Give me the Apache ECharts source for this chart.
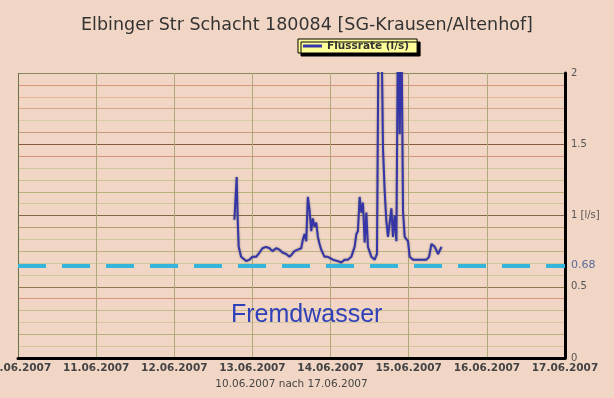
<!DOCTYPE html>
<html>
<head>
<meta charset="utf-8">
<script src="https://cdn.jsdelivr.net/npm/echarts@6/dist/echarts.min.js"></script>
<style>
html,body{margin:0;padding:0;background:#f1d6c5;}
#c{width:614px;height:398px;}
</style>
</head>
<body>
<div id="c"></div>
<script>
const titleText = 'Elbinger Str Schacht 180084 [SG-Krausen/Altenhof]';
const seriesName = 'Flussrate (l/s)';
const xAxisName = '10.06.2007 nach 17.06.2007';
const xStart = '2007-06-10 00:00';
const xEnd = '2007-06-17 00:00';
const yTickValues = [0, 0.5, 1, 1.5, 2];
const yTickLabels = ['0', '0.5', '1 [l/s]', '1.5', '2'];
const baseFlowValue = 0.645;
const baseFlowLabel = '0.68';
const baseFlowText = 'Fremdwasser';

const times = [
'2007-06-12 18:28','2007-06-12 19:10','2007-06-12 19:29','2007-06-12 19:47','2007-06-12 20:31',
'2007-06-12 22:04','2007-06-12 23:05','2007-06-13 00:00','2007-06-13 01:08','2007-06-13 02:10',
'2007-06-13 03:05','2007-06-13 04:13','2007-06-13 05:14','2007-06-13 06:09','2007-06-13 07:18',
'2007-06-13 08:18','2007-06-13 09:14','2007-06-13 10:22','2007-06-13 11:23','2007-06-13 12:13',
'2007-06-13 12:55','2007-06-13 13:56','2007-06-13 14:59','2007-06-13 15:29','2007-06-13 16:00',
'2007-06-13 16:32','2007-06-13 17:01','2007-06-13 17:32','2007-06-13 18:04','2007-06-13 18:33',
'2007-06-13 19:05','2007-06-13 19:36','2007-06-13 20:06','2007-06-13 20:37','2007-06-13 21:08',
'2007-06-13 22:09','2007-06-13 23:10','2007-06-14 00:43','2007-06-14 02:15','2007-06-14 03:18',
'2007-06-14 04:18','2007-06-14 05:19','2007-06-14 06:22','2007-06-14 07:23','2007-06-14 07:55',
'2007-06-14 08:24','2007-06-14 08:56','2007-06-14 09:27','2007-06-14 09:57','2007-06-14 10:28',
'2007-06-14 10:59','2007-06-14 11:29','2007-06-14 12:32','2007-06-14 13:33','2007-06-14 14:15',
'2007-06-14 14:46','2007-06-14 15:36','2007-06-14 16:06','2007-06-14 16:37','2007-06-14 17:08',
'2007-06-14 17:38','2007-06-14 18:09','2007-06-14 18:41','2007-06-14 19:10','2007-06-14 19:41',
'2007-06-14 20:13','2007-06-14 20:43','2007-06-14 21:14','2007-06-14 21:45','2007-06-14 22:15',
'2007-06-14 22:46','2007-06-14 23:47','2007-06-15 00:18','2007-06-15 01:19','2007-06-15 03:23',
'2007-06-15 05:27','2007-06-15 06:15','2007-06-15 06:59','2007-06-15 08:00','2007-06-15 09:01',
'2007-06-15 10:04'
];
const flow = [
0.97,1.27,0.97,0.78,0.71,
0.68,0.69,0.71,0.71,0.74,
0.77,0.78,0.77,0.75,0.77,
0.76,0.74,0.73,0.71,0.73,
0.75,0.76,0.77,0.83,0.87,
0.82,1.13,1.04,0.89,0.98,
0.92,0.95,0.85,0.80,0.76,
0.71,0.71,0.69,0.68,0.67,
0.69,0.69,0.71,0.78,0.87,
0.89,1.13,1.02,1.09,0.81,
1.02,0.78,0.71,0.69,0.73,
2.4,2.4,1.47,1.17,0.96,
0.85,0.85,1.05,0.85,1.00,
0.82,2.4,1.57,2.4,1.03,
0.85,0.82,0.71,0.69,0.69,
0.69,0.71,0.80,0.78,0.73,
0.78
];

function parseT(s){
  const [d, hm] = s.split(' ');
  const [Y, M, D] = d.split('-').map(Number);
  const [h, m] = hm.split(':').map(Number);
  return Date.UTC(Y, M - 1, D, h, m);
}
function pad(n){ return (n < 10 ? '0' : '') + n; }

const DAY = 86400000;
const hColors = [
'#8a8a60','#cfc79a','#b8b07a','#d2c9a0','#c4bc8c','#d8947a','#8c7c50','#d0c898',
'#cfc79a','#bcb280','#d0c898','#b0a070','#806848','#d0c898','#b8b07a','#c8c490',
'#d0c89c','#d8957c','#8a5a40','#c89c80','#d8cca8','#d8a488','#e8b494','#d89478','#b89070'
];

const chart = echarts.init(document.getElementById('c'), null, {renderer: 'canvas'});
chart.setOption({
  backgroundColor: '#f1d6c5',
  animation: false,
  title: [{
    text: titleText,
    left: 'center',
    top: 11,
    textStyle: {fontFamily: 'DejaVu Sans', fontSize: 17.5, fontWeight: 'normal', color: '#333'}
  }, {
    text: baseFlowText,
    left: 226,
    top: 298,
    textStyle: {fontFamily: 'Liberation Sans', fontSize: 25, fontWeight: 'normal', color: '#3040b8'}
  }],
  legend: {
    left: 298, top: 39,
    padding: [1, 8, 1, 5],
    itemWidth: 19, itemHeight: 3, icon: 'rect', itemGap: 5,
    backgroundColor: '#ffff99',
    borderColor: '#000', borderWidth: 1,
    shadowColor: '#000', shadowOffsetX: 3, shadowOffsetY: 3, shadowBlur: 0,
    textStyle: {fontFamily: 'DejaVu Sans', fontSize: 10.5, fontWeight: 'bold', color: '#333', lineHeight: 12},
    data: [seriesName]
  },
  grid: {left: 18, right: 49, top: 73, bottom: 40, containLabel: false, outerBoundsMode: 'none'},
  xAxis: {
    type: 'value',
    min: parseT(xStart), max: parseT(xEnd), interval: DAY,
    name: xAxisName, nameLocation: 'middle', nameGap: 18,
    nameTextStyle: {fontFamily: 'DejaVu Sans', fontSize: 10.5, color: '#444'},
    axisLine: {show: true, onZero: false, lineStyle: {color: '#000', width: 3}},
    axisTick: {show: false},
    axisLabel: {
      show: true, margin: 5, showMinLabel: true, showMaxLabel: true, hideOverlap: false,
      fontFamily: 'DejaVu Sans', fontSize: 10.5, fontWeight: 'bold', color: '#444',
      formatter: v => { const d = new Date(v); return pad(d.getUTCDate()) + '.' + pad(d.getUTCMonth() + 1) + '.' + d.getUTCFullYear(); }
    },
    splitLine: {show: true, lineStyle: {color: ['#707048','#b0a878','#b0a878','#b0a878','#b0a878','#b0a878','#b0a878','#b0a878'], width: 1}}
  },
  yAxis: {
    type: 'value', position: 'right',
    min: 0, max: 2, interval: 1 / 12,
    axisLine: {show: true, lineStyle: {color: '#000', width: 3}},
    axisTick: {show: false},
    axisLabel: {
      margin: 6, fontFamily: 'DejaVu Sans', fontSize: 10, color: '#555',
      formatter: v => {
        for (let i = 0; i < yTickValues.length; i++) {
          if (Math.abs(v - yTickValues[i]) < 1e-6) return yTickLabels[i];
        }
        return '';
      }
    },
    splitLine: {show: true, lineStyle: {color: hColors, width: 1.2}}
  },
  series: [{
    name: seriesName,
    type: 'line',
    symbol: 'none',
    data: times.map((t, i) => [parseT(t), flow[i]]),
    lineStyle: {color: '#3535a8', width: 2, shadowColor: 'rgba(90,90,90,0.7)', shadowBlur: 2},
    itemStyle: {color: '#3535a8'},
    markLine: {
      silent: true, symbol: 'none',
      data: [{yAxis: baseFlowValue}],
      lineStyle: {color: '#35b5dc', width: 4, type: [28, 16]},
      label: {show: true, position: 'end', formatter: baseFlowLabel, distance: 6,
        fontFamily: 'DejaVu Sans', fontSize: 11, color: '#5a6a9a'}
    }
  }]
});
</script>
</body>
</html>
